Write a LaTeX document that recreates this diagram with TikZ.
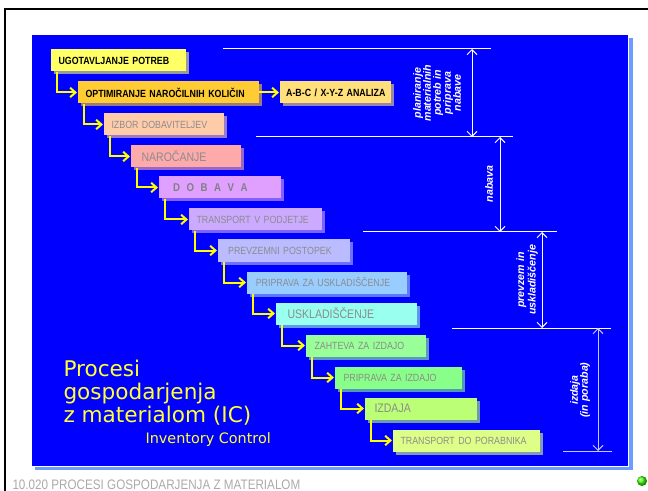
\documentclass[tikz,border=0pt]{standalone}
\usepackage{fontspec}
\usetikzlibrary{arrows.meta,calc,shadows}
\setmainfont{Liberation Sans}
\newfontfamily\boxfont{Liberation Sans}[FakeStretch=0.85]
\newfontfamily\titlefont{DejaVu Sans}

\definecolor{slideblue}{RGB}{0,0,255}
\definecolor{panelshadow}{RGB}{108,156,255}
\definecolor{flowyellow}{RGB}{255,255,0}
\definecolor{titleyellow}{RGB}{255,255,51}
\definecolor{stepgray}{RGB}{140,140,140}
\definecolor{footgray}{RGB}{170,170,170}
\definecolor{izdajaline}{RGB}{200,200,255}
\definecolor{boxA}{RGB}{255,255,102}
\definecolor{boxB}{RGB}{255,204,51}
\definecolor{boxC}{RGB}{255,224,122}
\definecolor{boxD}{RGB}{255,204,170}
\definecolor{boxE}{RGB}{255,170,170}
\definecolor{boxF}{RGB}{224,160,255}
\definecolor{boxG}{RGB}{204,170,255}
\definecolor{boxH}{RGB}{187,187,255}
\definecolor{boxI}{RGB}{153,204,255}
\definecolor{boxJ}{RGB}{153,255,238}
\definecolor{boxK}{RGB}{153,255,153}
\definecolor{boxL}{RGB}{136,255,136}
\definecolor{boxM}{RGB}{187,255,119}
\definecolor{boxN}{RGB}{221,255,136}

\newcommand\widespaces{\spaceskip=4.9pt\relax}

\tikzset{every picture/.style={line width=0.75pt}}
\tikzset{
  stepbox/.style={fill=#1, anchor=north west, minimum height=16.5pt, inner xsep=6pt, inner ysep=0pt,
    align=left, text=stepgray, font=\boxfont\fontsize{7.8}{8}\selectfont,
    drop shadow={shadow xshift=2.25pt, shadow yshift=-2.25pt, fill=#1!60!blue, opacity=1}},
  boldtext/.style={text=black, font=\boxfont\bfseries\fontsize{7.8}{8}\selectfont},
  bigtext/.style={font=\boxfont\fontsize{9.3}{10}\selectfont},
  flow/.style={draw=flowyellow, line width=1.5pt, -{Straight Barb[length=4pt,width=7pt]}},
  dimline/.style={draw=white, line width=0.75pt},
  dimarrow/.style={draw=white, line width=0.75pt, {Straight Barb[length=3.75pt,width=7.5pt]}-{Straight Barb[length=3.75pt,width=7.5pt]}},
  dimlabel/.style={text=white, rotate=90, align=center, inner sep=0pt, font=\bfseries\itshape\fontsize{8}{7.5}\selectfont}
}

\begin{document}
\begin{tikzpicture}[x=0.75pt,y=0.75pt,yscale=-1,xscale=1]
\useasboundingbox (0,0) rectangle (648,491);

%Frame
\draw[black, line width=1.5pt] (5,491) -- (5,9) -- (648,9);
%Panel
\fill[panelshadow] (35,38) rectangle (633,470);
\draw[white, fill=slideblue] (31,35) rectangle (628,466);

%Levels
\coordinate (m1a) at (223,49);  \coordinate (m1b) at (491,49);
\coordinate (m2a) at (256,137); \coordinate (m2b) at (513,137);
\coordinate (m3a) at (363,232); \coordinate (m3b) at (557,232);
\coordinate (m4a) at (452,328); \coordinate (m4b) at (611,328);
\coordinate (m5a) at (563,451); \coordinate (m5b) at (612,451);
\draw[dimline] (m1a) -- (m1b);
\draw[dimline] (m2a) -- (m2b);
\draw[dimline] (m3a) -- (m3b);
\draw[dimline] (m4a) -- (m4b);
\draw[dimline, draw=izdajaline] (m5a) -- (m5b);

%Steps
\node[stepbox=boxA, boldtext, text width=89.25pt] (potrebe) at (50,49) {UGOTAVLJANJE POTREB};
\node[stepbox=boxB, boldtext, text width=123.75pt] (optim) at (77,81) {OPTIMIRANJE NAROČILNIH KOLIČIN};
\node[stepbox=boxC, boldtext, inner xsep=3pt, text width=77.25pt] (abc) at (279,81) {\hspace*{2pt}A-B-C / X-Y-Z ANALIZA};
\node[stepbox=boxD, text width=78pt] (izbor) at (103,113) {IZBOR DOBAVITELJEV};
\node[stepbox=boxE, bigtext, text width=66pt, inner xsep=8.25pt] (narocanje) at (130,145) {NAROČANJE};
\node[stepbox=boxF, text=gray, font=\boxfont\bfseries\fontsize{8.5}{9}\selectfont, text width=70pt, inner xsep=11pt] (dobava) at (158,176) {\widespaces D O B A V A};
\node[stepbox=boxG, text width=87.75pt] (transport) at (188,208) {TRANSPORT V PODJETJE};
\node[stepbox=boxH, text width=83.25pt, inner xsep=8pt] (prevzem) at (217,239) {PREVZEMNI POSTOPEK};
\node[stepbox=boxI, text width=106.5pt, inner xsep=7pt] (priprava) at (246,271) {PRIPRAVA ZA USKLADIŠČENJE};
\node[stepbox=boxJ, bigtext, text width=88pt, inner xsep=9pt] (skladisce) at (275,302) {USKLADIŠČENJE};
\node[stepbox=boxK, text width=76.5pt, inner xsep=6.75pt] (zahteva) at (305,334) {ZAHTEVA ZA IZDAJO};
\node[stepbox=boxL, text width=81.75pt, inner xsep=6.75pt] (pripizd) at (334,366) {PRIPRAVA ZA IZDAJO};
\node[stepbox=boxM, bigtext, text width=69pt, inner xsep=7.5pt] (izdaja) at (364,397) {IZDAJA};
\node[stepbox=boxN, text width=98.25pt] (porabnik) at (392,429) {TRANSPORT DO PORABNIKA};

%Flow
\draw[flow] ($(potrebe.south west)+(7,0)$) |- (optim.west);
\draw[flow] (optim.east) -- (abc.west);
\draw[flow] ($(optim.south west)+(7,0)$) |- (izbor.west);
\draw[flow] ($(izbor.south west)+(7,0)$) |- (narocanje.west);
\draw[flow] ($(narocanje.south west)+(7,0)$) |- (dobava.west);
\draw[flow] ($(dobava.south west)+(7,0)$) |- (transport.west);
\draw[flow] ($(transport.south west)+(7,0)$) |- (prevzem.west);
\draw[flow] ($(prevzem.south west)+(7,0)$) |- (priprava.west);
\draw[flow] ($(priprava.south west)+(7,0)$) |- (skladisce.west);
\draw[flow] ($(skladisce.south west)+(7,0)$) |- (zahteva.west);
\draw[flow] ($(zahteva.south west)+(7,0)$) |- (pripizd.west);
\draw[flow] ($(pripizd.south west)+(7,0)$) |- (izdaja.west);
\draw[flow] ($(izdaja.south west)+(7,0)$) |- (porabnik.west);

%Phases
\coordinate (a1t) at (472,49);  \coordinate (a1b) at (472,137);
\coordinate (a2t) at (500,137); \coordinate (a2b) at (500,232);
\coordinate (a3t) at (542,232); \coordinate (a3b) at (542,328);
\coordinate (a4t) at (598,328); \coordinate (a4b) at (598,451);
\draw[dimarrow] (a1t) -- (a1b);
\draw[dimarrow] (a2t) -- (a2b);
\draw[dimarrow] (a3t) -- (a3b);
\draw[dimarrow, draw=izdajaline] (a4t) -- (a4b);
\node[dimlabel] (planiranje) at (437,93) {planiranje\\materialnih\\potreb in\\priprava\\nabave};
\node[dimlabel] (nabava) at (489,184) {nabava};
\node[dimlabel] (prevzemL) at (527,280) {prevzem in\\uskladiščenje};
\node[dimlabel] (izdajaL) at (580,390) {izdaja\\(in poraba)};

%Title
\node[anchor=north west, inner sep=0pt, align=left, text=titleyellow, font=\titlefont\fontsize{16.2}{17.2}\selectfont] (title) at (63,360) {Procesi\\gospodarjenja\\z materialom (IC)};
\node[anchor=base west, inner sep=0pt, text=titleyellow, font=\titlefont\fontsize{10.8}{12}\selectfont] (subtitle) at (145,443) {Inventory Control};

%Footer
\node[anchor=base west, inner sep=0pt, text=footgray, font=\boxfont\fontsize{10.3}{11}\selectfont] (footer) at (12,489) {10.020 PROCESI GOSPODARJENJA Z MATERIALOM};
\shade[ball color=green!70!lime] (642,481) circle (5);
\end{tikzpicture}
\end{document}
